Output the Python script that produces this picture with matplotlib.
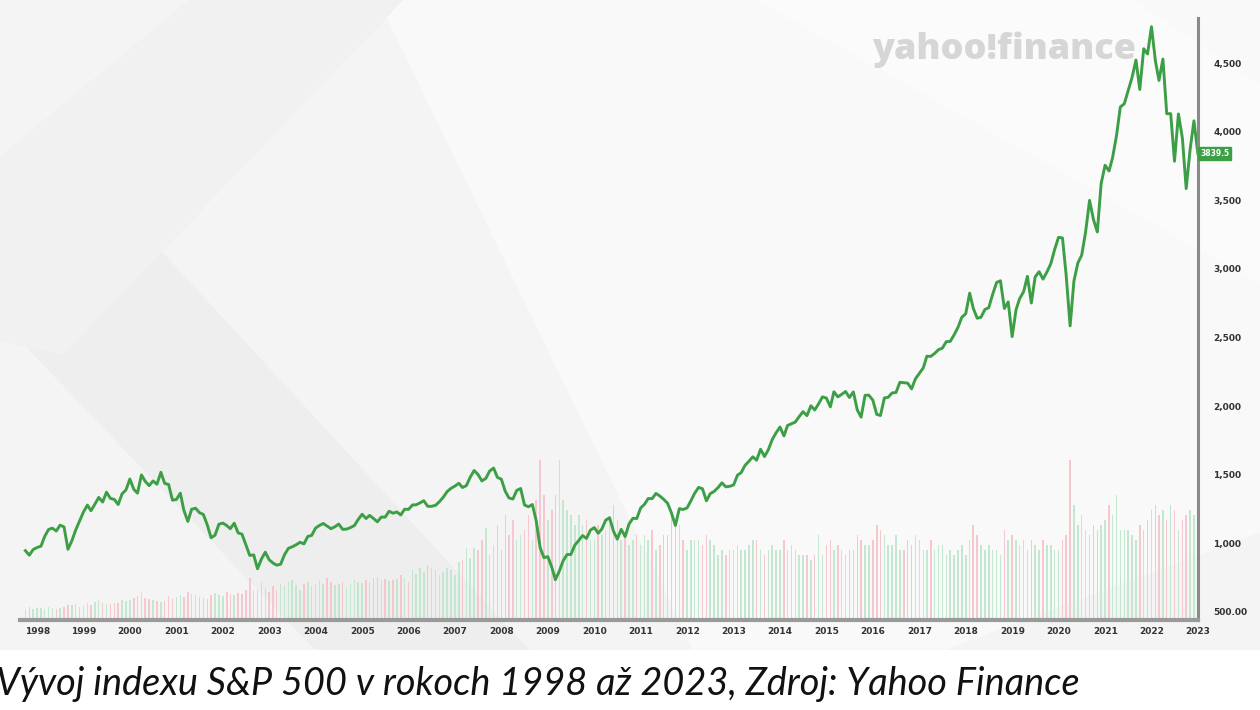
import matplotlib
matplotlib.use('Agg')
import matplotlib.pyplot as plt
from matplotlib.patches import Polygon
import pandas as pd

# monthly closes of the S&P 500, Sep 1997 .. Dec 2022
close = [
    947, 914, 955, 970,                                                      # 1997
    980, 1049, 1101, 1111, 1090, 1133, 1120, 957, 1017, 1098, 1163, 1229,    # 1998
    1279, 1238, 1286, 1335, 1301, 1373, 1328, 1320, 1283, 1362, 1389, 1469,  # 1999
    1394, 1366, 1499, 1452, 1421, 1455, 1431, 1518, 1437, 1429, 1315, 1320,  # 2000
    1366, 1240, 1160, 1249, 1256, 1224, 1211, 1134, 1041, 1060, 1139, 1148,  # 2001
    1130, 1107, 1147, 1077, 1067, 990, 912, 916, 815, 886, 936, 880,         # 2002
    856, 841, 848, 917, 964, 975, 990, 1008, 996, 1051, 1058, 1112,          # 2003
    1131, 1145, 1126, 1107, 1121, 1141, 1102, 1104, 1115, 1130, 1174, 1212,  # 2004
    1181, 1204, 1181, 1157, 1192, 1191, 1234, 1220, 1229, 1207, 1249, 1248,  # 2005
    1280, 1281, 1295, 1311, 1270, 1270, 1277, 1304, 1336, 1378, 1401, 1418,  # 2006
    1438, 1407, 1421, 1482, 1531, 1503, 1455, 1474, 1527, 1549, 1481, 1468,  # 2007
    1379, 1331, 1323, 1386, 1400, 1280, 1267, 1283, 1166, 969, 896, 903,     # 2008
    826, 735, 798, 873, 919, 919, 987, 1021, 1057, 1036, 1096, 1115,         # 2009
    1074, 1104, 1169, 1187, 1089, 1031, 1102, 1049, 1141, 1183, 1181, 1258,  # 2010
    1286, 1327, 1326, 1364, 1345, 1321, 1292, 1219, 1131, 1253, 1247, 1258,  # 2011
    1312, 1366, 1408, 1398, 1310, 1362, 1379, 1407, 1441, 1412, 1416, 1426,  # 2012
    1498, 1515, 1569, 1598, 1631, 1606, 1686, 1633, 1682, 1757, 1806, 1848,  # 2013
    1783, 1859, 1872, 1884, 1924, 1960, 1931, 2003, 1972, 2018, 2068, 2059,  # 2014
    1995, 2105, 2068, 2086, 2107, 2063, 2104, 1972, 1920, 2079, 2080, 2044,  # 2015
    1940, 1932, 2060, 2065, 2097, 2099, 2174, 2171, 2168, 2126, 2199, 2239,  # 2016
    2279, 2364, 2363, 2384, 2412, 2423, 2470, 2472, 2519, 2575, 2648, 2674,  # 2017
    2824, 2714, 2641, 2648, 2705, 2718, 2816, 2902, 2914, 2712, 2760, 2507,  # 2018
    2704, 2784, 2834, 2946, 2752, 2942, 2980, 2926, 2977, 3038, 3141, 3231,  # 2019
    3226, 2954, 2585, 2912, 3044, 3100, 3271, 3500, 3363, 3270, 3622, 3756,  # 2020
    3714, 3811, 3973, 4181, 4204, 4298, 4395, 4523, 4308, 4605, 4567, 4766,  # 2021
    4516, 4374, 4530, 4132, 4132, 3785, 4130, 3955, 3586, 3872, 4080, 3840,  # 2022
]

# monthly volume, billions of shares (bar heights estimated from the chart)
volume = [
    11, 13, 11, 12,
    12, 11, 13, 12, 11, 12, 13, 15, 15, 16, 13, 14,
    17, 15, 18, 20, 17, 16, 16, 17, 17, 20, 19, 20,
    22, 24, 28, 22, 21, 20, 19, 18, 19, 24, 21, 23,
    25, 23, 28, 26, 25, 23, 22, 21, 25, 27, 25, 24,
    28, 26, 25, 27, 26, 30, 42, 30, 30, 38, 32, 28,
    34, 30, 36, 34, 38, 40, 35, 30, 36, 38, 34, 36,
    40, 36, 42, 38, 35, 36, 38, 33, 36, 40, 38, 37,
    40, 38, 42, 43, 40, 41, 39, 40, 41, 45, 42, 38,
    50, 46, 52, 48, 55, 52, 50, 45, 48, 52, 50, 45,
    58, 60, 72, 62, 72, 70, 80, 92, 65, 75, 95, 70,
    105, 85, 100, 80, 85, 90, 105, 80, 120, 160, 125, 100,
    110, 125, 160, 120, 110, 105, 95, 105, 95, 100, 80, 80,
    95, 85, 90, 95, 115, 100, 80, 85, 75, 80, 85, 75,
    85, 80, 90, 70, 75, 85, 85, 110, 100, 95, 80, 70,
    80, 80, 80, 75, 85, 80, 75, 65, 70, 65, 70, 70,
    75, 70, 70, 75, 80, 80, 70, 65, 70, 75, 70, 70,
    80, 70, 75, 70, 65, 65, 65, 60, 65, 85, 65, 75,
    80, 70, 75, 70, 65, 70, 70, 85, 80, 75, 75, 80,
    95, 90, 85, 75, 75, 85, 70, 70, 80, 75, 85, 80,
    70, 70, 80, 70, 75, 75, 65, 70, 65, 70, 75, 65,
    80, 95, 85, 75, 70, 75, 70, 70, 65, 90, 80, 85,
    80, 75, 80, 70, 80, 75, 70, 80, 75, 75, 70, 70,
    80, 85, 160, 115, 95, 105, 90, 85, 95, 90, 95, 100,
    115, 105, 125, 90, 90, 90, 85, 80, 95, 90, 100, 110,
    115, 105, 110, 100, 115, 110, 90, 100, 105, 110, 105, 100,
]

# closes are dated at month end
months = pd.date_range('1997-09-30', periods=len(close), freq='ME')
years = list(range(1998, 2024))
y_ticks = [500, 1000, 1500, 2000, 2500, 3000, 3500, 4000, 4500]
y_labels = ['500.00', '1,000', '1,500', '2,000', '2,500', '3,000', '3,500', '4,000', '4,500']
last_label = '3839.5'
caption = 'Vývoj indexu S&P 500 v rokoch 1998 až 2023, Zdroj: Yahoo Finance'

green = '#3c9f45'

fig = plt.figure(figsize=(12.6, 7.1), dpi=100)
fig.patch.set_facecolor('#ffffff')

# soft grey background with light diagonal bands (as in the screenshot)
bg = [
    ([(0, 0.085), (1, 0.085), (1, 1), (0, 1)], '#f4f4f4'),
    ([(0.30, 1), (1, 1), (1, 0.25), (0.75, 0.085), (0.55, 0.085)], '#f9f9f9'),
    ([(0, 0.55), (0.10, 0.70), (0.42, 0.085), (0.25, 0.085)], '#eeeeee'),
    ([(0.15, 1), (0.32, 1), (0.05, 0.50), (0, 0.52), (0, 0.78)], '#f1f1f1'),
    ([(0.60, 1), (0.90, 1), (1, 0.88), (1, 0.60)], '#fbfbfb'),
]
for pts, c in bg:
    fig.patches.append(Polygon(pts, closed=True, transform=fig.transFigure,
                               facecolor=c, edgecolor='none', zorder=-10))

ax = fig.add_axes([0.0159, 0.1268, 0.9349, 0.8478])
ax2 = ax.twinx()
ax.set_zorder(ax2.get_zorder() + 1)
ax.patch.set_visible(False)
ax2.patch.set_visible(False)

# volume bars coloured by monthly move
prev = [close[0]] + close[:-1]
bar_cols = ['#bfe6cb' if c >= p else '#f6c3ca' for c, p in zip(close, prev)]
ax2.bar(months, volume, width=12, color=bar_cols, alpha=0.9, linewidth=0)
ax2.set_ylim(0, 602)
ax2.set_yticks([])
for s in ax2.spines.values():
    s.set_visible(False)

ax.plot(months, close, color=green, lw=2.1, solid_joinstyle='round')

ax.set_xlim(pd.Timestamp('1997-08-19'), pd.Timestamp('2022-11-30'))
ax2.set_xlim(ax.get_xlim())
ax.set_ylim(441.7, 4829)

ax.yaxis.tick_right()
ax.set_yticks(y_ticks)
ax.set_yticklabels(y_labels)
ax.set_xticks([pd.Timestamp(f'{y}-01-01') for y in years])
ax.set_xticklabels([str(y) for y in years])
ax.tick_params(axis='y', length=0, pad=11, labelsize=6.5, labelcolor='#333333')
ax.tick_params(axis='x', length=0, pad=5, labelsize=6.5, labelcolor='#333333')
for lab in ax.get_xticklabels() + ax.get_yticklabels():
    lab.set_fontweight('bold')

for side in ['left', 'top']:
    ax.spines[side].set_visible(False)
ax.spines['right'].set_color('#8a8a8a')
ax.spines['right'].set_linewidth(2.2)
ax.spines['bottom'].set_color('#9a9a9a')
ax.spines['bottom'].set_linewidth(3)

# last price tag
ax.text(1.002, close[-1], last_label, transform=ax.get_yaxis_transform(),
        ha='left', va='center', fontsize=5.5, fontweight='bold', color='white',
        bbox=dict(boxstyle='square,pad=0.25', fc=green, ec=green))

# yahoo watermark
fig.text(0.692, 0.93, 'yahoo!finance', fontsize=26, fontweight='heavy',
         family='Open Sans', color='#d6d6d6', ha='left', va='center')

fig.text(-0.003, 0.021, caption, fontsize=27.3, style='italic', family='Lato',
         color='#111111', ha='left', va='baseline')

fig.savefig('out.png', dpi=100, facecolor=fig.get_facecolor())
